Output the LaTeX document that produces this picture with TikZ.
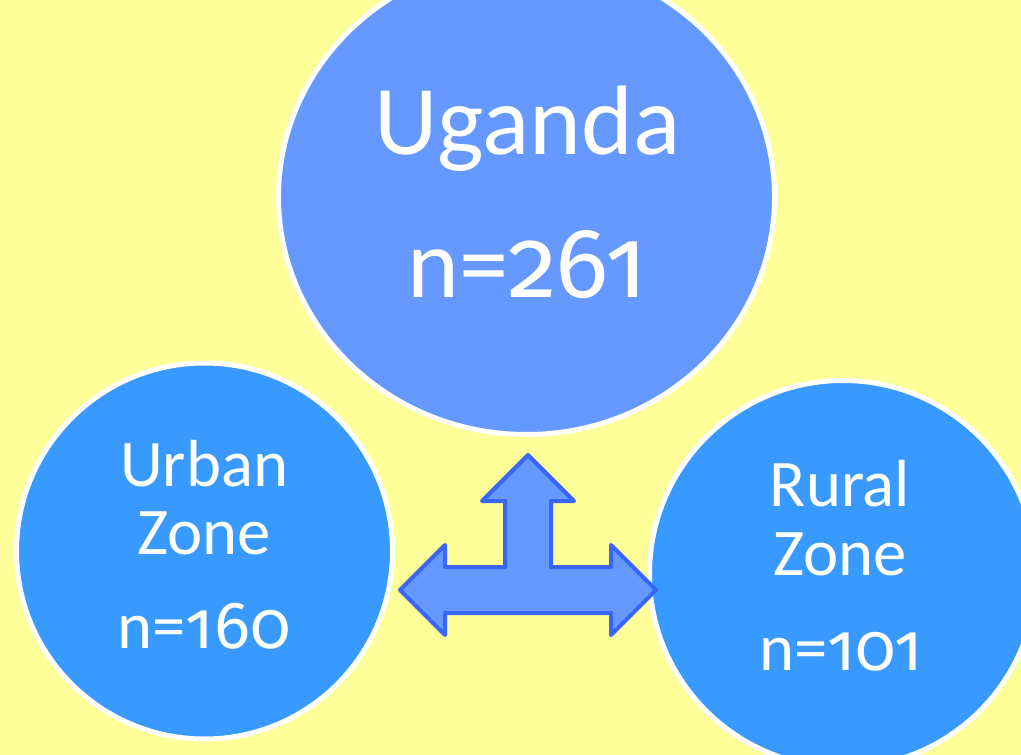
\documentclass[tikz,border=0pt]{standalone}
\usepackage{fontspec}
\setmainfont{Carlito}
\newfontfamily\numfont{Fira Sans}[Numbers=OldStyle,Scale=1.0]
\usetikzlibrary{shapes.geometric}
\definecolor{bgyellow}{HTML}{FFFF99}
\definecolor{bigblue}{HTML}{6699FF}
\definecolor{zoneblue}{HTML}{3899FF}
\definecolor{arrowline}{HTML}{3766F8}
\newcommand{\onum}[1]{{\numfont #1}}
\begin{document}
\begin{tikzpicture}[x=0.75pt,y=-0.75pt,
  bubble/.style={draw=white, line width=3.75pt, inner sep=0pt, outer sep=0pt},
  bigtxt/.style={text=white, anchor=base, inner sep=0pt, font=\fontsize{74}{88}\selectfont},
  zonetxt/.style={text=white, anchor=base, inner sep=0pt, font=\fontsize{50}{60}\selectfont}]
\fill[bgyellow] (0,0) rectangle (1021,755);
\useasboundingbox (0,0) rectangle (1021,755);
\clip (0,0) rectangle (1021,755);
% circles
\node[bubble, ellipse, fill=bigblue, minimum width=372pt, minimum height=356.25pt] (uganda) at (526.5,197) {};
\node[bubble, circle, fill=zoneblue, minimum size=282pt] (urban) at (204.5,551) {};
\node[bubble, circle, fill=zoneblue, minimum size=290.25pt] (rural) at (843,574) {};
% texts
\node[bigtxt] (ugname) at (527.5,155) {Uganda};
\node[bigtxt] (ugn) at (527.5,298) {n=\onum{261}};
\node[zonetxt] (urb1) at (204,486) {Urban};
\node[zonetxt] (urb2) at (204,554) {Zone};
\node[zonetxt] (urb3) at (204,648) {n=\onum{160}};
\node[zonetxt] (rur1) at (840,506) {Rural};
\node[zonetxt] (rur2) at (840,575) {Zone};
\node[zonetxt] (rur3) at (841,670) {n=\onum{101}};
% three-way arrow
\draw[fill=bigblue, draw=arrowline, line width=3pt, line join=round]
  (528,455) -- (574,501) -- (551,501) -- (551,567) -- (611,567) -- (611,545)
  -- (656,590) -- (611,635) -- (611,613) -- (445,613) -- (445,635)
  -- (400,590) -- (445,545) -- (445,567) -- (505,567) -- (505,501)
  -- (482,501) -- cycle;
\end{tikzpicture}
\end{document}
